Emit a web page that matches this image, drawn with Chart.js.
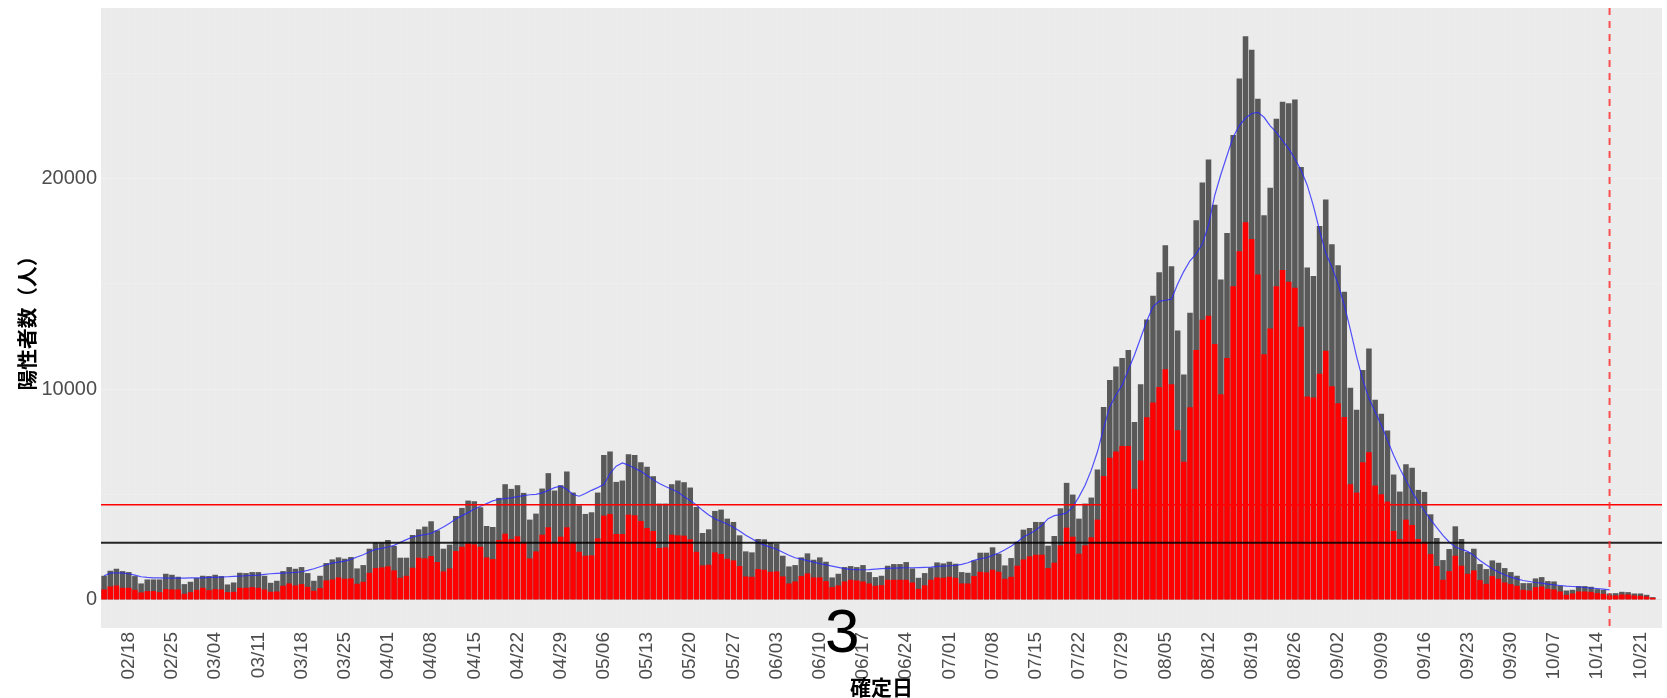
<!DOCTYPE html>
<html><head><meta charset="utf-8">
<script src="https://cdn.jsdelivr.net/npm/chart.js@4.4.1/dist/chart.umd.min.js"></script>
<style>html,body{margin:0;padding:0;background:#fff;overflow:hidden}canvas{display:block}</style>
</head><body>
<canvas id="c" width="1667" height="698"></canvas>
<script>
// ---- data ----
const firstDay = [2022, 1, 14];   // 02/14
const dayCount = 253;             // 02/14 .. 10/24
const totalPositives = [
1143,1381,1476,1365,1317,1127,778,968,968,968,1238,1190,1095,746,857,1032,1143,1127,1190,1127,
730,825,1285,1270,1317,1317,1143,809,905,1365,1555,1476,1555,1270,905,1143,1746,1920,2016,1952,
2031,1492,1650,2428,2714,2714,2841,2555,2000,2000,3079,3349,3476,3730,3301,2428,2619,3983,4364,4713,
4682,4396,3507,3460,4840,5491,5269,
5443,5078,3809,4094,5285,6015,5190,5443,6094,
5094,4491,4079,4158,5094,6872,7046,5600,5666,6919,6872,6538,6316,5872,4571,4571,5491,5666,5586,5332,
4412,3174,3349,4221,4285,3856,3698,3063,2301,2254,2888,
2872,2714,2666,2095,1587,1650,2016,2206,1904,2016,1809,1063,1238,1555,1603,1555,1650,1317,1079,1143,
1619,1698,1698,1793,1492,
1047,1270,1539,1777,1730,
1809,1714,1317,1285,1873,2238,2238,2492,2190,1635,1984,2761,3333,3412,3698,3698,2571,3031,4348,5555,
4999,3856,4571,4856,6189,9157,10443,11077,
11487,11863,8441,
10233,13314,14443,15554,16844,15840,12795,10699,13637,18026,19818,20910,18761,15213,17417,22075,24762,26768,26123,23794,
18259,19566,22845,23651,23579,23758,20552,15786,15374,17757,19011,
16885,15885,14631,10076,9029,10918,11934,9505,8839,8045,5950,5141,6443,6269,5220,5125,4062,2936,1888,2412,
3491,2888,2269,2428,1698,1460,1872,1761,1508,1317,
1143,793,793,1016,1079,888,873,666,444,476,651,651,619,508,476,301,317,381,365,301,301,238,127,25
];
const redPositives = [
492,635,682,571,571,476,349,413,413,365,508,492,492,286,365,476,571,460,508,492,
365,381,571,571,603,571,492,381,397,667,778,682,746,619,429,556,921,968,1063,1000,
1016,762,857,1285,1508,1539,1587,1397,1047,1143,1524,2000,1968,2079,1793,1349,1492,2317,2523,2682,
2634,2523,2016,1936,2841,3142,2888,
3015,2700,1968,2301,3095,3444,2698,3000,3444,
2714,2285,2095,2110,2920,3999,4079,3126,3126,4047,4015,3745,3412,3269,2460,2492,3095,3063,3047,2872,
2285,1635,1666,2254,2174,1952,1873,1603,1111,1095,1460,
1428,1333,1349,1111,778,873,1127,1254,1063,1063,889,603,682,873,952,920,873,778,667,698,
952,952,952,952,825,
524,690,952,1063,1047,
1095,1047,778,778,1127,1333,1301,1428,1333,1000,1095,1619,1920,2063,2142,2142,1508,1762,2587,3428,
2999,2190,2587,2968,3809,5872,6745,7046,
7310,7310,5271,
6614,8675,9374,10108,10950,10233,8048,6560,9141,11863,13296,13493,12149,9765,11487,14891,16557,17936,17130,15446,
11666,12884,14891,15661,15106,14820,12974,9660,9606,10735,11827,
10138,9331,8681,5491,5094,6538,7014,5427,5015,4666,3269,2888,3809,3555,2888,2729,2174,1603,952,1365,
2095,1619,1238,1397,936,762,1127,1000,825,746,
667,476,444,603,635,524,492,397,238,301,397,397,381,317,285,206,206,254,254,206,190,158,95,0
];
const trendLine = [
1143,1270,1285,1270,1238,1174,1095,1063,1047,1047,1032,1032,1032,1032,1047,1047,1047,1063,1063,1079,
1095,1111,1127,1143,1158,1174,1206,1238,1254,1270,1285,1301,1333,1396,1476,1571,1666,1746,1793,1841,
1920,2031,2142,2285,2396,2444,2507,2587,2730,2857,2984,3047,3095,3158,3301,3460,3634,3841,3999,4142,
4317,4444,4571,4698,4777,4809,4840,
4900,4950,4990,5010,5080,5200,5330,5400,5250,
5000,4920,5050,5200,5330,5480,6000,6350,6500,6400,6250,6100,5900,5700,5520,5380,5250,5120,4900,4720,
4500,4250,4030,3850,3720,3600,3450,3270,3070,2900,2730,
2600,2500,2400,2260,2120,2000,1930,1860,1790,1720,1660,1600,1540,1480,1450,1430,1428,1430,1460,1480,
1495,1505,1515,1523,1523,
1530,1540,1555,1587,1603,
1619,1635,1682,1762,1873,1952,2000,2111,2222,2381,2539,2746,2984,3142,3301,3539,3856,3999,4047,4126,
4412,4888,5443,6158,7030,8141,9173,9728,
10197,10913,11630,
12436,13242,13923,14174,14228,14281,15000,15600,16100,16430,16900,17800,19200,20200,21100,21985,22522,22880,23095,23149,
22916,22504,22200,21806,21430,20946,20408,19691,18706,17542,16467,
15800,15000,14000,12823,11553,10442,9569,8935,8300,7584,6870,6236,5680,5125,4649,4220,3808,3427,3062,2745,
2507,2396,2300,2110,1872,1666,1475,1317,1190,1078,
998,919,871,824,792,744,713,681,649,633,617,586,554,538,506,475,
null,null,null,null,null,null,null,null
];
const yTickValues = [0, 5000, 10000, 15000, 20000, 25000];
const yLabeledTicks = [0, 10000, 20000];
const redThreshold = 4515;
const blackThreshold = 2715;
const markerDate = '10/16';
const xTickEvery = 7, xTickOffset = 4;   // 02/18, 02/25, ...
const yTitle = '陽性者数（人）';
const xTitle = '確定日';
const bigLabel = '3';

// ---- category labels ----
const dateLabels = [];
for (let i = 0; i < dayCount; i++) {
  const d = new Date(Date.UTC(firstDay[0], firstDay[1], firstDay[2] + i));
  dateLabels.push(String(d.getUTCMonth() + 1).padStart(2, '0') + '/' + String(d.getUTCDate()).padStart(2, '0'));
}

const panelPlugin = {
  id: 'panel',
  beforeDraw(chart) {
    const {ctx, chartArea: a} = chart;
    ctx.save();
    ctx.fillStyle = '#EBEBEB';
    ctx.fillRect(a.left, a.top, a.right - a.left, a.bottom - a.top);
    ctx.restore();
  },
  afterDatasetsDraw(chart) {
    const {ctx, chartArea: a, scales: {x, y}} = chart;
    ctx.save();
    ctx.beginPath(); ctx.rect(a.left, a.top, a.right - a.left, a.bottom - a.top); ctx.clip();
    let py = y.getPixelForValue(blackThreshold);
    ctx.strokeStyle = 'rgba(0,0,0,0.85)'; ctx.lineWidth = 2;
    ctx.beginPath(); ctx.moveTo(a.left, py); ctx.lineTo(a.right, py); ctx.stroke();
    py = y.getPixelForValue(redThreshold);
    ctx.strokeStyle = '#FF0000'; ctx.lineWidth = 1.6;
    ctx.beginPath(); ctx.moveTo(a.left, py); ctx.lineTo(a.right, py); ctx.stroke();
    const px = x.getPixelForValue(dateLabels.indexOf(markerDate));
    ctx.strokeStyle = 'rgba(255,40,40,0.8)'; ctx.lineWidth = 2; ctx.setLineDash([7, 6]);
    ctx.beginPath(); ctx.moveTo(px, a.top); ctx.lineTo(px, a.bottom); ctx.stroke();
    ctx.restore();
  },
  afterDraw(chart) {
    const {ctx, chartArea: a, scales: {x}} = chart;
    ctx.save();
    ctx.fillStyle = '#000';
    ctx.font = 'bold 21px "Noto Sans CJK JP"';
    ctx.textAlign = 'center'; ctx.textBaseline = 'middle';
    ctx.fillText(xTitle, (a.left + a.right) / 2, 687);
    ctx.translate(27, (a.top + a.bottom) / 2);
    ctx.rotate(-Math.PI / 2);
    ctx.font = 'bold 20.7px "Noto Sans CJK JP"';
    ctx.fillText(yTitle, 0, 0);
    ctx.restore();
    ctx.save();
    ctx.fillStyle = '#000';
    ctx.font = '62px "Liberation Sans"';
    ctx.textAlign = 'center'; ctx.textBaseline = 'alphabetic';
    ctx.fillText(bigLabel, x.getPixelForValue(119.65), 652);
    ctx.restore();
  }
};

new Chart(document.getElementById('c'), {
  data: {
    labels: dateLabels,
    datasets: [
      { type: 'line', data: trendLine, borderColor: 'rgba(40,40,255,0.8)', borderWidth: 1.2,
        pointRadius: 0, tension: 0, spanGaps: false, order: 0 },
      { type: 'bar', data: redPositives, backgroundColor: '#FF0000', grouped: false,
        barPercentage: 0.9, categoryPercentage: 1.0, order: 1 },
      { type: 'bar', data: totalPositives, backgroundColor: '#595959', grouped: false,
        barPercentage: 0.9, categoryPercentage: 1.0, order: 2 }
    ]
  },
  options: {
    responsive: false, animation: false, devicePixelRatio: 1,
    layout: { padding: { top: 8, right: 5, left: 0, bottom: 0 } },
    plugins: { legend: { display: false }, tooltip: { enabled: false } },
    scales: {
      x: {
        type: 'category', offset: true,
        grid: { offset: false, color: 'rgba(255,255,255,0.12)', lineWidth: 0.5, drawTicks: true,
                tickLength: 3, tickColor: 'transparent' },
        border: { display: false },
        ticks: { autoSkip: false, maxRotation: 90, minRotation: 90, padding: 1, color: '#4D4D4D',
                 font: { family: 'Liberation Sans', size: 19 },
                 callback: (v, i) => ((i - xTickOffset) % xTickEvery === 0 ? dateLabels[i] : '') },
        afterFit: (s) => { s.height = 70; s.paddingLeft = 0; s.paddingRight = 0; }
      },
      y: {
        min: -1338, max: 28106,
        afterBuildTicks: (s) => { s.ticks = yTickValues.map(v => ({ value: v })); },
        grid: { color: (c) => (yLabeledTicks.includes(c.tick.value) ? 'rgba(255,255,255,0.3)' : 'rgba(255,255,255,0.2)'),
                lineWidth: 0.8, tickLength: 3, tickColor: 'transparent' },
        border: { display: false },
        ticks: { padding: 1, color: '#4D4D4D', font: { family: 'Liberation Sans', size: 20 },
                 callback: (v) => (yLabeledTicks.includes(v) ? String(v) : '') },
        afterFit: (s) => { s.width = 101; s.paddingTop = 0; s.paddingBottom = 0; }
      }
    }
  },
  plugins: [panelPlugin]
});
</script>
</body></html>
